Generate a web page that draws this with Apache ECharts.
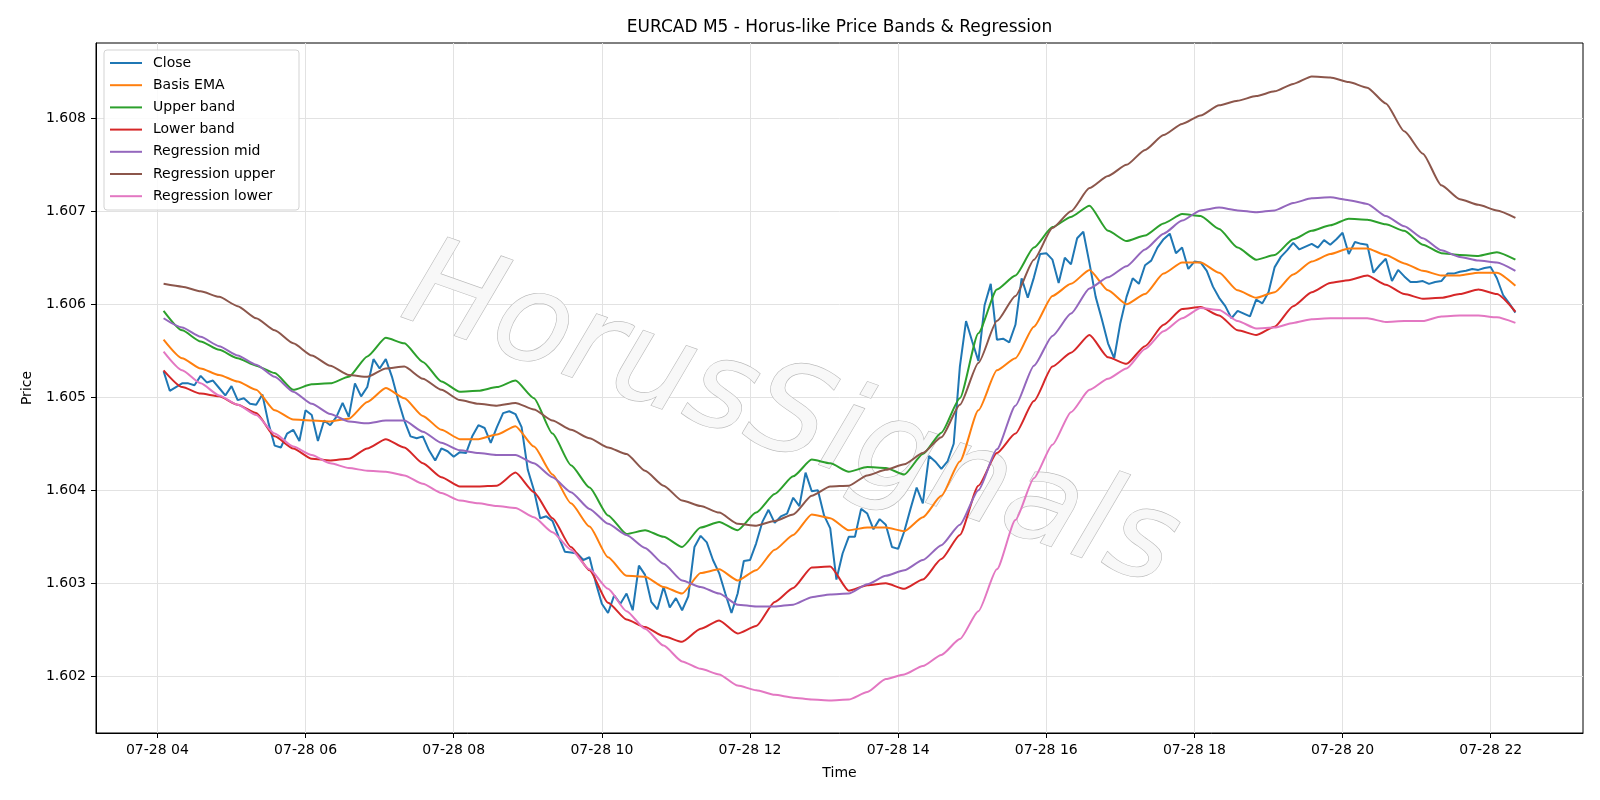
<!DOCTYPE html>
<html><head><meta charset="utf-8">
<script src="https://cdn.jsdelivr.net/npm/echarts@6/dist/echarts.min.js"></script>
<style>html,body{margin:0;padding:0;background:#fff}#c{width:1600px;height:800px}</style>
</head><body><div id="c"></div>
<script>
// time of first sample (hours after 00:00 on 07-28) and sampling steps (minutes)
const startHour = 4 + 5/60;
const closeStepMin = 5;
const bandStepMin = 15;

const close = [
1.60528,1.60507,1.60511,1.60515,1.60515,1.60513,1.60523,1.60516,1.60518,1.60510,
1.60502,1.60512,1.60497,1.60499,1.60493,1.60492,1.60503,1.60472,1.60448,1.60446,
1.60461,1.60465,1.60453,1.60486,1.60481,1.60453,1.60475,1.60470,1.60479,1.60494,
1.60479,1.60515,1.60501,1.60511,1.60541,1.60531,1.60541,
1.60522,1.60497,1.60475,1.60458,1.60456,1.60458,1.60443,1.60432,1.60445,1.60442,
1.60436,1.60441,1.60440,1.60458,1.60470,1.60467,1.60451,1.60468,1.60483,1.60485,
1.60482,1.60468,1.60422,1.60400,1.60370,1.60372,1.60367,1.60350,1.60334,1.60333,
1.60332,1.60325,1.60328,1.60301,1.60278,1.60268,
1.60287,1.60278,1.60289,1.60271,1.60319,1.60309,1.60280,1.60272,1.60296,1.60274,
1.60284,1.60271,1.60286,1.60339,1.60351,1.60344,1.60325,1.60311,1.60289,1.60268,
1.60289,1.60324,1.60325,1.60343,1.60366,1.60379,1.60365,1.60372,1.60375,1.60392,
1.60383,1.60419,1.60399,1.60400,1.60373,1.60359,1.60304,1.60332,1.60350,
1.60350,1.60380,1.60375,1.60358,1.60369,1.60363,1.60339,1.60337,1.60356,1.60380,
1.60403,1.60386,1.60437,1.60431,1.60423,1.60431,1.60450,1.60533,1.60582,1.60560,
1.60539,1.60599,1.60622,1.60562,1.60563,1.60559,1.60578,1.60628,1.60607,1.60629,
1.60654,1.60655,1.60648,1.60623,1.60650,1.60643,1.60671,
1.60678,1.60644,1.60608,1.60584,1.60558,1.60542,1.60580,1.60608,1.60628,1.60622,
1.60642,1.60647,1.60661,1.60670,1.60676,1.60655,1.60661,1.60638,1.60646,1.60645,
1.60636,1.60619,1.60607,1.60598,1.60585,1.60593,1.60590,1.60587,1.60605,1.60601,
1.60613,1.60640,1.60651,1.60658,1.60666,1.60659,1.60662,
1.60665,1.60661,1.60669,1.60664,1.60670,1.60677,1.60654,1.60667,1.60665,1.60664,
1.60634,1.60642,1.60649,1.60625,1.60637,1.60630,1.60624,1.60624,1.60625,1.60622,
1.60624,1.60625,1.60633,1.60633,1.60635,1.60636,1.60638,1.60637,1.60639,1.60640,
1.60628,1.60610,1.60601,1.60591
];

const basisEMA = [
1.60562,1.60542,1.60531,1.60524,1.60517,1.60508,1.60486,1.60476,1.60475,1.60474,1.60477,1.60495,1.60510,
1.60499,1.60480,1.60465,1.60455,1.60455,1.60460,1.60469,1.60447,1.60417,1.60386,1.60361,1.60328,
1.60308,1.60307,1.60296,1.60289,1.60311,1.60315,1.60303,1.60314,1.60336,1.60352,1.60374,1.60370,1.60357,
1.60360,1.60360,1.60356,1.60371,1.60394,1.60431,1.60486,1.60529,1.60542,1.60576,1.60609,1.60622,
1.60637,1.60615,1.60600,1.60611,1.60633,1.60645,1.60645,1.60634,1.60615,1.60607,1.60613,1.60632,
1.60646,1.60654,1.60660,1.60660,1.60653,1.60644,1.60636,1.60631,1.60631,1.60634,1.60634,1.60620
];

const upperBand = [
1.60593,1.60572,1.60560,1.60551,1.60542,1.60534,1.60526,1.60508,1.60514,1.60515,1.60522,1.60544,1.60564,
1.60558,1.60538,1.60517,1.60506,1.60507,1.60511,1.60518,1.60499,1.60461,1.60427,1.60403,1.60373,
1.60353,1.60357,1.60350,1.60339,1.60360,1.60366,1.60357,1.60376,1.60396,1.60415,1.60433,1.60429,1.60420,
1.60425,1.60424,1.60417,1.60439,1.60462,1.60499,1.60569,1.60616,1.60631,1.60661,1.60683,1.60694,
1.60706,1.60679,1.60668,1.60674,1.60687,1.60697,1.60695,1.60681,1.60661,1.60648,1.60653,1.60670,
1.60679,1.60685,1.60692,1.60691,1.60686,1.60679,1.60664,1.60655,1.60653,1.60652,1.60656,1.60648
];

const lowerBand = [
1.60529,1.60511,1.60504,1.60501,1.60492,1.60483,1.60458,1.60445,1.60434,1.60432,1.60434,1.60445,1.60455,
1.60446,1.60429,1.60414,1.60404,1.60404,1.60405,1.60419,1.60398,1.60370,1.60339,1.60314,1.60279,
1.60261,1.60253,1.60243,1.60237,1.60251,1.60260,1.60246,1.60254,1.60280,1.60295,1.60317,1.60318,1.60292,
1.60298,1.60300,1.60294,1.60304,1.60326,1.60352,1.60405,1.60440,1.60461,1.60496,1.60533,1.60548,
1.60567,1.60543,1.60536,1.60555,1.60578,1.60595,1.60597,1.60588,1.60572,1.60567,1.60576,1.60598,
1.60613,1.60623,1.60626,1.60631,1.60621,1.60611,1.60606,1.60607,1.60611,1.60616,1.60611,1.60592
];

const regMid = [
1.60585,1.60575,1.60565,1.60555,1.60545,1.60535,1.60522,1.60506,1.60493,1.60482,1.60474,1.60472,1.60475,
1.60475,1.60463,1.60451,1.60443,1.60440,1.60438,1.60438,1.60429,1.60414,1.60398,1.60380,1.60364,
1.60352,1.60338,1.60321,1.60303,1.60296,1.60289,1.60277,1.60275,1.60275,1.60277,1.60285,1.60288,1.60289,
1.60299,1.60308,1.60314,1.60325,1.60341,1.60363,1.60400,1.60444,1.60491,1.60534,1.60566,1.60590,
1.60617,1.60629,1.60641,1.60659,1.60676,1.60690,1.60701,1.60704,1.60701,1.60699,1.60701,1.60709,
1.60714,1.60715,1.60712,1.60708,1.60695,1.60684,1.60671,1.60658,1.60651,1.60647,1.60645,1.60636
];

const regUpper = [
1.60622,1.60619,1.60614,1.60608,1.60598,1.60585,1.60572,1.60558,1.60545,1.60534,1.60524,1.60522,1.60531,
1.60533,1.60520,1.60508,1.60497,1.60493,1.60491,1.60494,1.60487,1.60475,1.60465,1.60456,1.60446,
1.60439,1.60421,1.60405,1.60389,1.60383,1.60376,1.60364,1.60362,1.60367,1.60374,1.60394,1.60404,1.60405,
1.60416,1.60422,1.60428,1.60440,1.60457,1.60492,1.60537,1.60582,1.60609,1.60648,1.60682,1.60700,
1.60725,1.60738,1.60750,1.60766,1.60782,1.60794,1.60803,1.60814,1.60819,1.60824,1.60829,1.60837,
1.60845,1.60844,1.60839,1.60833,1.60816,1.60786,1.60762,1.60728,1.60713,1.60707,1.60701,1.60693
];

const regLower = [
1.60549,1.60529,1.60515,1.60502,1.60492,1.60481,1.60461,1.60447,1.60438,1.60429,1.60424,1.60421,1.60420,
1.60416,1.60407,1.60397,1.60389,1.60386,1.60383,1.60381,1.60371,1.60355,1.60336,1.60315,1.60294,
1.60270,1.60251,1.60233,1.60216,1.60208,1.60202,1.60190,1.60185,1.60180,1.60177,1.60175,1.60174,1.60175,
1.60183,1.60197,1.60202,1.60211,1.60223,1.60240,1.60270,1.60315,1.60368,1.60413,1.60449,1.60484,
1.60508,1.60520,1.60531,1.60552,1.60571,1.60585,1.60596,1.60594,1.60582,1.60574,1.60575,1.60580,
1.60584,1.60585,1.60585,1.60585,1.60581,1.60582,1.60582,1.60587,1.60588,1.60588,1.60586,1.60580
];

const xTickHours = [4, 6, 8, 10, 12, 14, 16, 18, 20, 22];
const yTicks = [1.602, 1.603, 1.604, 1.605, 1.606, 1.607, 1.608];
const seriesNames = ['Close','Basis EMA','Upper band','Lower band','Regression mid','Regression upper','Regression lower'];
const seriesColors = ['#1f77b4','#ff7f0e','#2ca02c','#d62728','#9467bd','#8c564b','#e377c2'];
const titleText = 'EURCAD M5 - Horus-like Price Bands & Regression';
const watermarkText = 'HorusSignals';

function toPoints(arr, stepMin) {
  return arr.map((v, i) => [startHour + i * stepMin / 60, v]);
}
const seriesData = [
  toPoints(close, closeStepMin),
  toPoints(basisEMA, bandStepMin),
  toPoints(upperBand, bandStepMin),
  toPoints(lowerBand, bandStepMin),
  toPoints(regMid, bandStepMin),
  toPoints(regUpper, bandStepMin),
  toPoints(regLower, bandStepMin)
];

const FONT = 'DejaVu Sans';
const chart = echarts.init(document.getElementById('c'), null, {renderer: 'canvas'});
const gridLine = {show: true, lineStyle: {color: '#e2e2e2', width: 1}};

const option = {
  animation: false,
  backgroundColor: '#ffffff',
  grid: {left: 96, right: 17, top: 43, bottom: 67, show: true, borderColor: '#000', borderWidth: 1, backgroundColor: 'transparent'},
  xAxis: {
    type: 'value', min: 3.1708, max: 23.2458,
    name: 'Time', nameLocation: 'middle', nameGap: 33,
    nameTextStyle: {fontFamily: FONT, fontSize: 14, color: '#000'},
    axisLine: {show: true, onZero: false, lineStyle: {color: '#000', width: 1}},
    axisTick: {show: true, length: 5, customValues: xTickHours, lineStyle: {color: '#000'}},
    axisLabel: {show: true, customValues: xTickHours, margin: 10, fontFamily: FONT, fontSize: 14, color: '#000',
      formatter: v => '07-28 ' + String(Math.round(v)).padStart(2, '0')},
    splitLine: gridLine
  },
  yAxis: {
    type: 'value', min: 1.60139, max: 1.60881, scale: true,
    name: 'Price', nameLocation: 'middle', nameGap: 62,
    nameTextStyle: {fontFamily: FONT, fontSize: 14, color: '#000'},
    axisLine: {show: true, onZero: false, lineStyle: {color: '#000', width: 1}},
    axisTick: {show: true, length: 5, customValues: yTicks, lineStyle: {color: '#000'}},
    axisLabel: {show: true, customValues: yTicks, margin: 10, fontFamily: FONT, fontSize: 14, color: '#000',
      formatter: v => v.toFixed(3)},
    splitLine: gridLine
  },
  legend: {
    orient: 'vertical', left: 110, top: 55, padding: 0, itemGap: 6.2,
    icon: 'rect', itemWidth: 32, itemHeight: 2, selectedMode: false, z: 5,
    data: seriesNames,
    textStyle: {fontFamily: FONT, fontSize: 14, color: '#000', lineHeight: 16, padding: [0, 0, 0, 6]}
  },
  graphic: [
    {type: 'text', z: 1, x: 839.5, y: 28, style: {text: titleText, font: '17px "DejaVu Sans"', fill: '#000', align: 'center', verticalAlign: 'middle'}},
    {type: 'text', z: 1, x: 790, y: 420, rotation: -0.34,
      style: {text: watermarkText, font: 'italic 124px "DejaVu Sans"', fill: '#f8f8f8', stroke: '#bcbcbc', lineWidth: 1.3,
        align: 'center', verticalAlign: 'middle', shadowColor: 'rgba(0,0,0,0.35)', shadowOffsetX: 4, shadowOffsetY: 4, shadowBlur: 3}},
    {type: 'rect', z: 4, shape: {x: 104, y: 50, width: 195, height: 160, r: 3},
      style: {fill: 'rgba(255,255,255,0.85)', stroke: '#d3d3d3', lineWidth: 1}}
  ],
  series: seriesNames.map((name, k) => ({
    name: name, type: 'line', data: seriesData[k], showSymbol: false, symbol: 'none',
    smooth: k === 0 ? false : 0.2, smoothMonotone: 'x',
    lineStyle: {color: seriesColors[k], width: 2}, itemStyle: {color: seriesColors[k]},
    z: 2, silent: true
  }))
};
chart.setOption(option);
</script></body></html>
